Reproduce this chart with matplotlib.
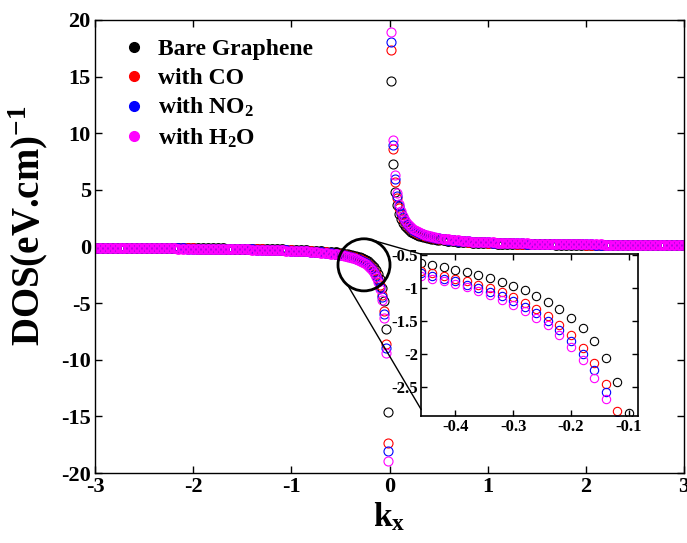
"""DOS vs k_x for bare and gas-adsorbed graphene, with zoomed inset."""

import matplotlib

matplotlib.use("Agg")
import matplotlib.pyplot as plt
from matplotlib.lines import Line2D
from matplotlib.patches import ConnectionPatch, Ellipse

# ---- data ------------------------------------------------------------------
k_neg = [-3.00, -2.95, -2.90, -2.85, -2.80, -2.75, -2.70, -2.65, -2.60, -2.55,
         -2.50, -2.45, -2.40, -2.35, -2.30, -2.25, -2.20, -2.15, -2.10, -2.05,
         -2.00, -1.95, -1.90, -1.85, -1.80, -1.75, -1.70, -1.65, -1.60, -1.55,
         -1.50, -1.45, -1.40, -1.35, -1.30, -1.25, -1.20, -1.15, -1.10, -1.05,
         -1.00, -0.95, -0.90, -0.85, -0.80, -0.75, -0.70, -0.65, -0.60, -0.55,
         -0.50, -0.48, -0.46, -0.44, -0.42, -0.40, -0.38, -0.36, -0.34, -0.32,
         -0.30, -0.28, -0.26, -0.24, -0.22, -0.20, -0.18, -0.16, -0.14, -0.12,
         -0.10, -0.08, -0.06, -0.04, -0.02]
k_pos = [0.02, 0.04, 0.06, 0.08, 0.10, 0.12, 0.14, 0.16, 0.18, 0.20,
         0.22, 0.24, 0.26, 0.28, 0.30, 0.32, 0.34, 0.36, 0.38, 0.40,
         0.42, 0.44, 0.46, 0.48, 0.50, 0.55, 0.60, 0.65, 0.70, 0.75,
         0.80, 0.85, 0.90, 0.95, 1.00, 1.05, 1.10, 1.15, 1.20, 1.25,
         1.30, 1.35, 1.40, 1.45, 1.50, 1.55, 1.60, 1.65, 1.70, 1.75,
         1.80, 1.85, 1.90, 1.95, 2.00, 2.05, 2.10, 2.15, 2.20, 2.25,
         2.30, 2.35, 2.40, 2.45, 2.50, 2.55, 2.60, 2.65, 2.70, 2.75,
         2.80, 2.85, 2.90, 2.95, 3.00]

dos_bare_neg = [-0.10, -0.10, -0.10, -0.10, -0.10, -0.11, -0.11, -0.11, -0.11, -0.11,
                -0.12, -0.12, -0.12, -0.12, -0.13, -0.13, -0.13, -0.13, -0.14, -0.14,
                -0.15, -0.15, -0.15, -0.16, -0.16, -0.17, -0.17, -0.18, -0.18, -0.19,
                -0.19, -0.20, -0.21, -0.21, -0.22, -0.23, -0.24, -0.25, -0.26, -0.28,
                -0.29, -0.31, -0.32, -0.34, -0.36, -0.39, -0.41, -0.45, -0.48, -0.53,
                -0.58, -0.60, -0.63, -0.66, -0.69, -0.73, -0.76, -0.81, -0.85, -0.91,
                -0.97, -1.04, -1.12, -1.21, -1.32, -1.45, -1.61, -1.81, -2.07, -2.42,
                -2.90, -3.63, -4.83, -7.25, -14.6]
dos_bare_pos = [14.6, 7.25, 4.83, 3.63, 2.90, 2.42, 2.07, 1.81, 1.61, 1.45,
                1.32, 1.21, 1.12, 1.04, 0.97, 0.91, 0.85, 0.81, 0.76, 0.73,
                0.69, 0.66, 0.63, 0.60, 0.58, 0.53, 0.48, 0.45, 0.41, 0.39,
                0.36, 0.34, 0.32, 0.31, 0.29, 0.28, 0.26, 0.25, 0.24, 0.23,
                0.22, 0.21, 0.21, 0.20, 0.19, 0.19, 0.18, 0.18, 0.17, 0.17,
                0.16, 0.16, 0.15, 0.15, 0.15, 0.14, 0.14, 0.13, 0.13, 0.13,
                0.13, 0.12, 0.12, 0.12, 0.12, 0.11, 0.11, 0.11, 0.11, 0.11,
                0.10, 0.10, 0.10, 0.10, 0.10]

dos_co_neg = [-0.11, -0.12, -0.12, -0.12, -0.12, -0.12, -0.13, -0.13, -0.13, -0.13,
              -0.14, -0.14, -0.14, -0.15, -0.15, -0.15, -0.16, -0.16, -0.16, -0.17,
              -0.17, -0.18, -0.18, -0.19, -0.19, -0.20, -0.20, -0.21, -0.21, -0.22,
              -0.23, -0.24, -0.25, -0.25, -0.26, -0.27, -0.29, -0.30, -0.31, -0.33,
              -0.34, -0.36, -0.38, -0.40, -0.43, -0.46, -0.49, -0.53, -0.57, -0.62,
              -0.69, -0.71, -0.75, -0.78, -0.82, -0.86, -0.90, -0.95, -1.01, -1.07,
              -1.14, -1.23, -1.32, -1.43, -1.56, -1.72, -1.91, -2.14, -2.45, -2.86,
              -3.43, -4.29, -5.72, -8.58, -17.35]
dos_co_pos = [17.35, 8.58, 5.72, 4.29, 3.43, 2.86, 2.45, 2.14, 1.91, 1.72,
              1.56, 1.43, 1.32, 1.23, 1.14, 1.07, 1.01, 0.95, 0.90, 0.86,
              0.82, 0.78, 0.75, 0.71, 0.69, 0.62, 0.57, 0.53, 0.49, 0.46,
              0.43, 0.40, 0.38, 0.36, 0.34, 0.33, 0.31, 0.30, 0.29, 0.27,
              0.26, 0.25, 0.25, 0.24, 0.23, 0.22, 0.21, 0.21, 0.20, 0.20,
              0.19, 0.19, 0.18, 0.18, 0.17, 0.17, 0.16, 0.16, 0.16, 0.15,
              0.15, 0.15, 0.14, 0.14, 0.14, 0.13, 0.13, 0.13, 0.13, 0.12,
              0.12, 0.12, 0.12, 0.12, 0.11]

dos_no2_neg = [-0.12, -0.12, -0.12, -0.13, -0.13, -0.13, -0.13, -0.14, -0.14, -0.14,
               -0.14, -0.15, -0.15, -0.15, -0.16, -0.16, -0.16, -0.17, -0.17, -0.18,
               -0.18, -0.18, -0.19, -0.19, -0.20, -0.21, -0.21, -0.22, -0.23, -0.23,
               -0.24, -0.25, -0.26, -0.27, -0.28, -0.29, -0.30, -0.31, -0.33, -0.34,
               -0.36, -0.38, -0.40, -0.42, -0.45, -0.48, -0.51, -0.55, -0.60, -0.65,
               -0.72, -0.75, -0.78, -0.82, -0.86, -0.90, -0.95, -1.00, -1.06, -1.13,
               -1.20, -1.29, -1.38, -1.50, -1.64, -1.80, -2.00, -2.25, -2.57, -3.00,
               -3.60, -4.50, -6.00, -9.00, -18.1]
dos_no2_pos = [18.1, 9.00, 6.00, 4.50, 3.60, 3.00, 2.57, 2.25, 2.00, 1.80,
               1.64, 1.50, 1.38, 1.29, 1.20, 1.13, 1.06, 1.00, 0.95, 0.90,
               0.86, 0.82, 0.78, 0.75, 0.72, 0.65, 0.60, 0.55, 0.51, 0.48,
               0.45, 0.42, 0.40, 0.38, 0.36, 0.34, 0.33, 0.31, 0.30, 0.29,
               0.28, 0.27, 0.26, 0.25, 0.24, 0.23, 0.23, 0.22, 0.21, 0.21,
               0.20, 0.19, 0.19, 0.18, 0.18, 0.18, 0.17, 0.17, 0.16, 0.16,
               0.16, 0.15, 0.15, 0.15, 0.14, 0.14, 0.14, 0.14, 0.13, 0.13,
               0.13, 0.13, 0.12, 0.12, 0.12]

dos_h2o_neg = [-0.13, -0.13, -0.13, -0.13, -0.13, -0.14, -0.14, -0.14, -0.15, -0.15,
               -0.15, -0.15, -0.16, -0.16, -0.16, -0.17, -0.17, -0.18, -0.18, -0.18,
               -0.19, -0.19, -0.20, -0.20, -0.21, -0.22, -0.22, -0.23, -0.24, -0.24,
               -0.25, -0.26, -0.27, -0.28, -0.29, -0.30, -0.31, -0.33, -0.34, -0.36,
               -0.38, -0.40, -0.42, -0.44, -0.47, -0.50, -0.54, -0.58, -0.63, -0.69,
               -0.75, -0.79, -0.82, -0.86, -0.90, -0.94, -0.99, -1.05, -1.11, -1.18,
               -1.26, -1.35, -1.45, -1.57, -1.71, -1.89, -2.09, -2.36, -2.69, -3.14,
               -3.77, -4.71, -6.28, -9.43, -18.9]
dos_h2o_pos = [18.9, 9.43, 6.28, 4.71, 3.77, 3.14, 2.69, 2.36, 2.09, 1.89,
               1.71, 1.57, 1.45, 1.35, 1.26, 1.18, 1.11, 1.05, 0.99, 0.94,
               0.90, 0.86, 0.82, 0.79, 0.75, 0.69, 0.63, 0.58, 0.54, 0.50,
               0.47, 0.44, 0.42, 0.40, 0.38, 0.36, 0.34, 0.33, 0.31, 0.30,
               0.29, 0.28, 0.27, 0.26, 0.25, 0.24, 0.24, 0.23, 0.22, 0.22,
               0.21, 0.20, 0.20, 0.19, 0.19, 0.18, 0.18, 0.18, 0.17, 0.17,
               0.16, 0.16, 0.16, 0.15, 0.15, 0.15, 0.15, 0.14, 0.14, 0.14,
               0.13, 0.13, 0.13, 0.13, 0.13]

series_labels = ["Bare Graphene", "with CO", "with NO$_2$", "with H$_2$O"]
series_colors = ["black", "red", "blue", "#ff00ff"]
series_neg = [dos_bare_neg, dos_co_neg, dos_no2_neg, dos_h2o_neg]
series_pos = [dos_bare_pos, dos_co_pos, dos_no2_pos, dos_h2o_pos]

# the |k| > 0.5 part is sampled coarser, so draw it with a heavier edge
N_FAR = 50

# ---- style -----------------------------------------------------------------
plt.rcParams["font.family"] = ["Liberation Serif", "DejaVu Serif"]
plt.rcParams["font.weight"] = "bold"
plt.rcParams["axes.unicode_minus"] = False
plt.rcParams["mathtext.fontset"] = "custom"
plt.rcParams["mathtext.rm"] = "Liberation Serif:bold"
plt.rcParams["mathtext.bf"] = "Liberation Serif:bold"
plt.rcParams["mathtext.it"] = "Liberation Serif:bold"
plt.rcParams["mathtext.default"] = "rm"

fig = plt.figure(figsize=(6.87, 5.43), dpi=100)
ax = fig.add_axes([0.1383, 0.1289, 0.8574, 0.8343])

for neg, pos, color in zip(series_neg, series_pos, series_colors):
    ax.plot(k_neg[:N_FAR], neg[:N_FAR], "o", mfc="none", mec=color, ms=6, mew=1.8)
    ax.plot(k_pos[-N_FAR:], pos[-N_FAR:], "o", mfc="none", mec=color, ms=6, mew=1.8)
    ax.plot(k_neg[N_FAR:], neg[N_FAR:], "o", mfc="none", mec=color, ms=6.5, mew=0.8)
    ax.plot(k_pos[:-N_FAR], pos[:-N_FAR], "o", mfc="none", mec=color, ms=6.5, mew=0.8)

ax.set_xlim(-3, 3)
ax.set_ylim(-20, 20)
ax.set_xticks([-3, -2, -1, 0, 1, 2, 3])
ax.set_yticks([-20, -15, -10, -5, 0, 5, 10, 15, 20])
ax.tick_params(direction="in", top=True, right=True, length=5, width=1,
               labelsize=16, pad=3)
for lab in ax.get_xticklabels() + ax.get_yticklabels():
    lab.set_fontweight("bold")
for sp in ax.spines.values():
    sp.set_linewidth(1)
ax.set_xlabel("k$_\\mathregular{x}$", fontsize=24, fontweight="bold", labelpad=2)
ax.set_ylabel("DOS(eV.cm)$^{-1}$", fontsize=28, fontweight="bold")
ax.yaxis.set_label_coords(-0.076, 0.545)

handles = [Line2D([], [], ls="none", marker="o", ms=7, mfc=c, mec=c)
           for c in series_colors]
ax.legend(handles, series_labels, loc="upper left", bbox_to_anchor=(0.01, 1.005),
          frameon=False, handlelength=1.0, handletextpad=0.5, labelspacing=0.3,
          prop={"family": "Liberation Serif", "weight": "bold", "size": 17})

# zoom circle and connectors
ax.add_patch(Ellipse((-0.26, -1.62), 0.53, 4.6, fill=False, lw=2, ec="black",
                     zorder=6))

axins = fig.add_axes([0.613, 0.234, 0.316, 0.298])
for neg, color in zip(series_neg, series_colors):
    axins.plot(k_neg, neg, "o", mfc="none", mec=color, ms=6, mew=0.8)
axins.set_xlim(-0.459, -0.084)
axins.set_ylim(-2.94, -0.49)
axins.set_xticks([-0.4, -0.3, -0.2, -0.1])
axins.set_yticks([-2.5, -2, -1.5, -1, -0.5])
axins.set_xticklabels(["-0.4", "-0.3", "-0.2", "-0.1"])
axins.set_yticklabels(["-2.5", "-2", "-1.5", "-1", "-0.5"])
axins.tick_params(direction="in", top=True, right=True, length=4, width=1,
                  labelsize=12, pad=2)
for lab in axins.get_xticklabels() + axins.get_yticklabels():
    lab.set_fontweight("bold")
for sp in axins.spines.values():
    sp.set_linewidth(1.2)

for xy_a, xy_b in [((-0.20, 0.62), (0, 1)), ((-0.427, -3.41), (0, 0.04))]:
    con = ConnectionPatch(xyA=xy_a, coordsA=ax.transData, xyB=xy_b,
                          coordsB=axins.transAxes, color="black", lw=1)
    fig.add_artist(con)

fig.savefig("out.png", dpi=100)
